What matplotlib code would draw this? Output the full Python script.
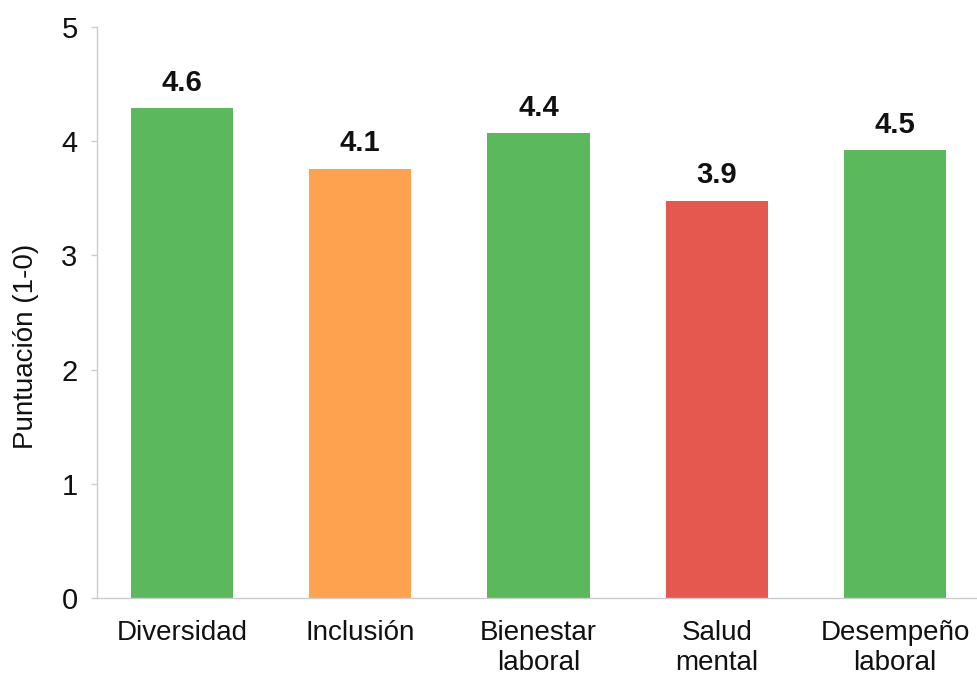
import matplotlib
matplotlib.use("Agg")
import matplotlib.pyplot as plt

categories = ["Diversidad", "Inclusión", "Bienestar\nlaboral", "Salud\nmental", "Desempeño\nlaboral"]
bar_heights = [4.29, 3.76, 4.07, 3.48, 3.92]
value_labels = ["4.6", "4.1", "4.4", "3.9", "4.5"]
bar_colors = ["#5cb85c", "#ffa24f", "#5cb85c", "#e5584f", "#5cb85c"]
y_ticks = [0, 1, 2, 3, 4, 5]
y_label = "Puntuación (1-0)"

plt.rcParams['font.family'] = ['Liberation Sans', 'DejaVu Sans']

fig = plt.figure(figsize=(9.78, 6.82), dpi=100)
ax = fig.add_axes([97/978, 1 - 598/682, 1 - 97/978, (598 - 27)/682])

x = list(range(len(categories)))
bars = ax.bar(x, bar_heights, width=0.575, color=bar_colors, zorder=2)

for xi, h, lab in zip(x, bar_heights, value_labels):
    ax.annotate(lab, xy=(xi, h), xytext=(0, 12.5), textcoords="offset points",
                ha="center", va="baseline", fontsize=21, fontweight="bold", color="#111111")

ax.set_xlim(-0.476, 4.465)
ax.set_ylim(0, 5)
ax.set_yticks(y_ticks)
ax.set_yticklabels([str(t) for t in y_ticks], fontsize=21, color="#111111")
ax.set_xticks(x)
ax.set_xticklabels(categories, fontsize=20, color="#111111", linespacing=1.2)

ax.tick_params(axis="y", length=4, width=1, color="#cccccc", pad=10)
ax.tick_params(axis="x", length=0, pad=16)

for s in ["top", "right"]:
    ax.spines[s].set_visible(False)
for s in ["left", "bottom"]:
    ax.spines[s].set_color("#cccccc")
    ax.spines[s].set_linewidth(1)

ax.set_ylabel(y_label, fontsize=20, color="#111111")
ax.yaxis.set_label_coords(-0.066, 0.44)

fig.savefig("out.png", dpi=100, facecolor="white")
